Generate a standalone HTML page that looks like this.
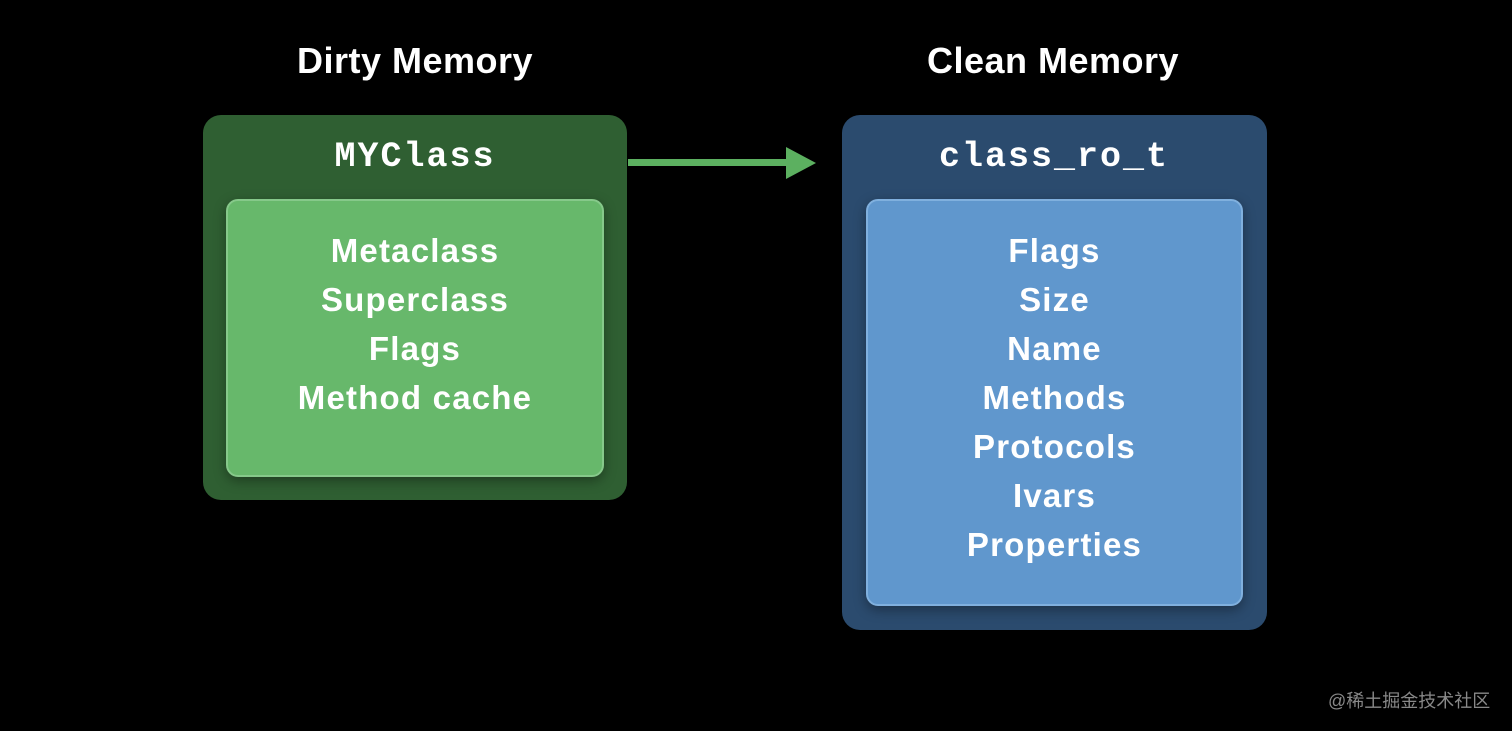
<!DOCTYPE html>
<html><head><meta charset="utf-8"><style>
body{margin:0;width:1512px;height:731px;background:#000;position:relative;overflow:hidden;font-family:"Liberation Sans",sans-serif;color:#fff}
.t{position:absolute;font-weight:bold;font-size:36px;letter-spacing:0.5px;text-align:center;width:500px;top:40px}
.box{position:absolute;border-radius:18px}
.in{position:absolute;border-radius:12px;text-align:center;font-size:33px;letter-spacing:1.2px;font-weight:bold;line-height:49px;padding-top:25px;box-sizing:border-box;box-shadow:0 4px 12px rgba(0,0,0,.35)}
.m{position:absolute;font-family:"Liberation Mono",monospace;font-size:35px;letter-spacing:2px;font-weight:bold;text-align:center;width:420px;top:137px}
</style></head><body>
<div class="t" style="left:165px">Dirty Memory</div>
<div class="t" style="left:803px">Clean Memory</div>
<div class="box" style="left:203px;top:115px;width:424px;height:385px;background:#2f5f32"></div>
<div class="m" style="left:205px">MYClass</div>
<div class="in" style="left:226px;top:199px;width:378px;height:278px;background:#67b86b;border:2px solid #86c98a">Metaclass<br>Superclass<br>Flags<br>Method cache</div>
<div class="box" style="left:842px;top:115px;width:425px;height:515px;background:#2b4b6e"></div>
<div class="m" style="left:844px">class_ro_t</div>
<div class="in" style="left:866px;top:199px;width:377px;height:407px;background:#6097cd;border:2px solid #80b0de">Flags<br>Size<br>Name<br>Methods<br>Protocols<br>Ivars<br>Properties</div>
<svg style="position:absolute;left:0;top:0" width="1512" height="731">
<rect x="628" y="159" width="162" height="7" fill="#5cb060"/>
<polygon points="786,147 816,163 786,179" fill="#5cb060"/>
</svg>
<div style="position:absolute;left:1328px;top:687px;font-size:18px;color:#888;font-family:'Liberation Sans','Noto Sans CJK SC',sans-serif">@稀土掘金技术社区</div>
</body></html>
